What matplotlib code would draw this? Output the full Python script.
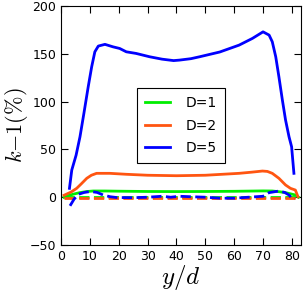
import numpy as np
import matplotlib
matplotlib.use("Agg")
import matplotlib.pyplot as plt

plt.rcParams['mathtext.fontset'] = 'cm'

# solid curves (k - 1 in %)
x_d1 = [1, 2, 4, 6.5, 9, 11.1, 15, 20, 30, 40, 50, 60, 65, 70, 73.2, 75.5, 77.8, 80, 81.2, 82.3]
k_d1 = [0, 1.3, 3, 4.8, 6, 6.5, 6.5, 6.3, 6, 5.9, 6, 6.2, 6.4, 6.6, 6.5, 5.8, 4.8, 3.2, 2.3, 0]

x_d2 = [1, 2, 3.5, 5.4, 7, 8.9, 10.5, 12.3, 16.9, 22.6, 30, 40, 50, 61.7, 66, 69.8, 71.5,
        73.2, 75.5, 77.8, 79.5, 81.2, 82.1]
k_d2 = [2, 3.4, 5.5, 9.3, 14, 19.8, 23, 25, 25, 24, 23, 22.5, 23, 25, 26.2, 27.4, 27,
        25, 19.8, 12.8, 9.3, 7.5, 0.5]

x_d5 = [2.9, 3.7, 5.2, 6.55, 7.9, 9.4, 10.6, 11.7, 12.9, 15.2, 18, 20.3, 22.6, 26, 30.7,
        35, 39, 41, 45, 48, 55, 61.7, 66.3, 70, 72.1, 73.2, 74.4, 75.5, 76.7, 77.8,
        79, 79.9, 80.7]
k_d5 = [9.3, 28.4, 44, 63.3, 87.7, 115.6, 136.5, 152.2, 158.2, 160, 157.4, 155.7, 152.2,
        150.5, 147, 144.5, 143, 143.5, 145, 147, 152, 159.2, 166.2, 173.1, 169.7, 162.7,
        147, 126, 101.7, 80.8, 63.3, 52.8, 25]

# dashed curves
xd_d1 = [1, 10, 20, 40, 60, 75, 82]
kd_d1 = [0, 0, 0, 0, 0, 0, 0]

xd_d2 = [1, 5, 20, 40, 60, 80, 82]
kd_d2 = [-1, -1, -1, -1, -1, -1, -1]

xd_d5 = [3.1, 4.5, 6, 8, 10.2, 12.5, 14.6, 17, 19.2, 25, 30, 35, 38, 41, 45, 50, 55,
         60, 65, 70, 72.1, 75.5, 77.5, 79, 80, 81]
kd_d5 = [-9, -2, 3, 5, 6, 5, 2.3, 0.5, -0.3, -0.5, 0, 1, 0, 1, 0.5, 0, -1,
         -1, 0, 1, 4.8, 6.5, 5, 2.3, -1.2, -1.5]

labels = ['D=1', 'D=2', 'D=5']
colors = ['#00ee00', '#ff5511', '#0000ff']

fig = plt.figure(figsize=(3.07, 3.07), dpi=100)
ax = fig.add_axes([0.199, 0.202, 0.78, 0.778])

ax.plot(x_d1, k_d1, color=colors[0], lw=2, label=labels[0])
ax.plot(xd_d1, kd_d1, color=colors[0], lw=2, ls='--')
ax.plot(x_d2, k_d2, color=colors[1], lw=2, label=labels[1])
ax.plot(xd_d2, kd_d2, color=colors[1], lw=2, ls='--')
ax.plot(x_d5, k_d5, color=colors[2], lw=2, label=labels[2])
ax.plot(xd_d5, kd_d5, color=colors[2], lw=2, ls='--')

ax.set_xlim(0, 83)
ax.set_ylim(-50, 200)
ax.set_xticks(np.arange(0, 81, 10))
ax.set_yticks(np.arange(-50, 201, 50))
ax.tick_params(direction='in', top=True, right=True, labelsize=9, length=5, width=0.8)

ax.set_xlabel(r'$y/d$', fontsize=18, labelpad=0)
ax.set_ylabel(r'$k{-}1(\%)$', fontsize=16, labelpad=0)

leg = ax.legend(loc='center', fontsize=10, handlelength=1.8, handletextpad=1.1,
                labelspacing=0.6, borderpad=0.6, fancybox=False, framealpha=1)
leg.get_frame().set_edgecolor('black')
leg.get_frame().set_linewidth(0.8)

plt.savefig('out.png', dpi=100)
